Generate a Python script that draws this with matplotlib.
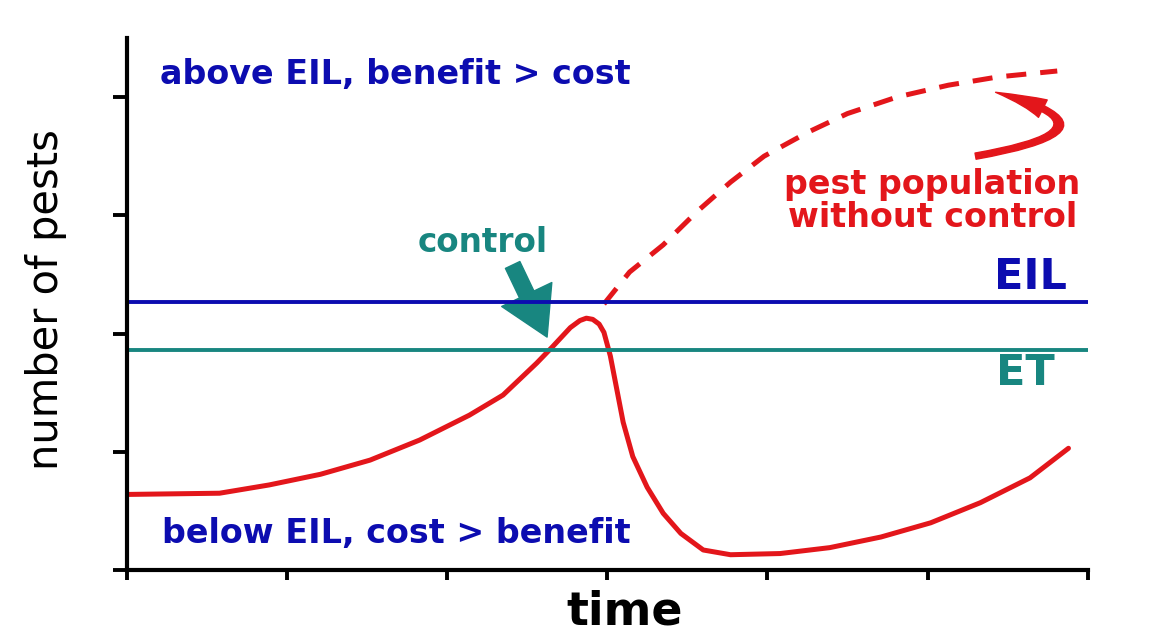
import numpy as np
import matplotlib.pyplot as plt
from matplotlib.patches import FancyArrowPatch

# pest population with control (time, number of pests)
t_ctrl = [0.00, 0.02, 0.58, 0.89, 1.21, 1.52, 1.83, 2.14, 2.35, 2.56, 2.66, 2.77, 2.83, 2.87,
          2.91, 2.95, 2.98, 3.02, 3.06, 3.10, 3.16, 3.25, 3.35, 3.46, 3.60, 3.77, 4.08,
          4.39, 4.71, 5.02, 5.33, 5.64, 5.88]
n_ctrl = [0.64, 0.64, 0.65, 0.72, 0.81, 0.93, 1.10, 1.31, 1.48, 1.75, 1.89, 2.05, 2.11, 2.13,
          2.12, 2.08, 2.01, 1.81, 1.53, 1.25, 0.96, 0.70, 0.48, 0.31, 0.17, 0.13, 0.14,
          0.19, 0.28, 0.40, 0.57, 0.78, 1.03]

# pest population without control
t_free = [2.98, 3.14, 3.35, 3.56, 3.77, 3.98, 4.25, 4.50, 4.81, 5.13, 5.44, 5.81]
n_free = [2.25, 2.52, 2.75, 3.03, 3.28, 3.50, 3.70, 3.86, 4.00, 4.10, 4.17, 4.22]

EIL = 2.27
ET = 1.86

blue = '#0c0cb0'
teal = '#188680'
red = '#e3161b'

fig = plt.figure(figsize=(11.51, 6.42), dpi=100)
ax = fig.add_axes([0.110, 0.112, 0.835, 0.829])

ax.plot(t_ctrl, n_ctrl, color=red, lw=3.6, solid_joinstyle='round', solid_capstyle='round')
ax.plot(t_free, n_free, color=red, lw=3.6, ls=(0, (4, 2.8)))
ax.axhline(EIL, color=blue, lw=2.8)
ax.axhline(ET, color=teal, lw=2.8)

ax.set_xlim(0, 6)
ax.set_ylim(0, 4.5)
ax.set_xticks(range(7))
ax.set_yticks(range(0, 5))
ax.tick_params(axis='x', length=7, width=2.8, direction='out', labelbottom=False)
ax.tick_params(axis='y', length=10, width=2.8, direction='out', labelleft=False)
for s in ['top', 'right']:
    ax.spines[s].set_visible(False)
for s in ['left', 'bottom']:
    ax.spines[s].set_linewidth(3)

ax.text(0.21, 4.19, 'above EIL, benefit > cost', color=blue, fontsize=24, fontweight='bold', va='center')
ax.text(0.22, 0.31, 'below EIL, cost > benefit', color=blue, fontsize=24, fontweight='bold', va='center')
ax.text(5.64, 2.48, 'EIL', color=blue, fontsize=31, fontweight='bold', ha='center', va='center')
ax.text(5.61, 1.67, 'ET', color=teal, fontsize=31, fontweight='bold', ha='center', va='center')
ax.text(2.225, 2.77, 'control', color=teal, fontsize=23.5, fontweight='bold', ha='center', va='center')
ax.text(5.03, 3.12, 'pest population\nwithout control', color=red, fontsize=24, fontweight='bold',
        ha='center', va='center', linespacing=1.0)

ax.add_patch(FancyArrowPatch((2.41, 2.58), (2.625, 1.97), color=teal, shrinkA=0, shrinkB=0,
                             arrowstyle='simple,head_width=4,head_length=3.4,tail_width=1.15',
                             mutation_scale=10))
ax.add_patch(FancyArrowPatch((5.30, 3.50), (5.425, 4.04), color=red, shrinkA=0, shrinkB=0,
                             connectionstyle='angle3,angleA=10,angleB=-15',
                             arrowstyle='simple,head_width=1.4,head_length=3.6,tail_width=0.45',
                             mutation_scale=10))

ax.set_xlabel('time', fontsize=33, fontweight='bold', va='center')
ax.xaxis.set_label_coords(0.518, -0.079)
ax.set_ylabel('number of pests', fontsize=30, va='center')
ax.yaxis.set_label_coords(-0.084, 0.508)

fig.savefig('out.png', dpi=100)
